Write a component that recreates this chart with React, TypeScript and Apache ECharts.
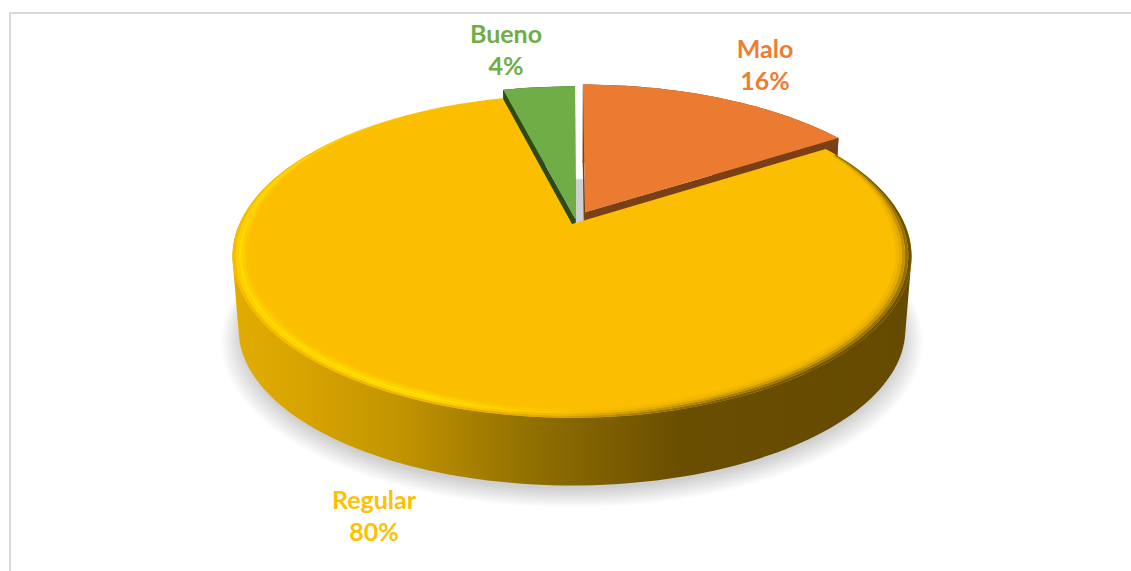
import React, { useEffect, useRef } from "react";
import * as echarts from "echarts";

// Data, clockwise from twelve o'clock
const CATEGORIES = ["Malo", "Regular", "Bueno"];
const VALUES = [16, 80, 4];

// Styling per category
const TOP_COLORS = ["#EA7B30", "#FBBE00", "#70AD47"];
const LABEL_COLORS = ["#ED7D31", "#FFC000", "#70AD47"];
const WALL_COLORS = ["#7A3F16", "#8F6E00", "#2C4A1A"];
const DRAW_RANK = [1, 3, 2];
const SHIFT_U = [0.04, 0, 0.011];
const SHIFT_V = [-0.077, 0, -0.03];
const RADII = [1.02, 1, 1.05];
const LABEL_X = [765, 374, 506];
const LABEL_Y = [64, 515, 49];

// Projection of the disc
const CX = 572;
const TOP_LAYER = { cy: 224, a: 332.6, b: 155 };
const BOTTOM_LAYER = { cy: 298, a: 326.6, b: 150 };
const PERSPECTIVE = 0.2;
const STEP = 1.5;
const SHADOW_LAYERS = 12;

type Layer = { cy: number; a: number; b: number };

function project(u: number, v: number, layer: Layer): number[] {
  const w = 1 - PERSPECTIVE * v;
  return [CX + (layer.a * u) / w, layer.cy + (layer.b * v) / w];
}

function polar(i: number, deg: number, r: number, layer: Layer): number[] {
  const t = (deg * Math.PI) / 180;
  return project(SHIFT_U[i] + r * Math.sin(t), SHIFT_V[i] - r * Math.cos(t), layer);
}

function arc(i: number, a0: number, a1: number, r: number | ((deg: number) => number), layer: Layer): number[][] {
  const n = Math.max(2, Math.ceil((a1 - a0) / STEP));
  const out: number[][] = [];
  for (let k = 0; k <= n; k++) {
    const deg = a0 + ((a1 - a0) * k) / n;
    out.push(polar(i, deg, typeof r === "function" ? r(deg) : r, layer));
  }
  return out;
}

function hull(points: number[][]): number[][] {
  const pts = points.slice().sort((p, q) => p[0] - q[0] || p[1] - q[1]);
  const cross = (o: number[], a: number[], b: number[]) =>
    (a[0] - o[0]) * (b[1] - o[1]) - (a[1] - o[1]) * (b[0] - o[0]);
  const half = (list: number[][]) => {
    const h: number[][] = [];
    for (const p of list) {
      while (h.length >= 2 && cross(h[h.length - 2], h[h.length - 1], p) <= 0) h.pop();
      h.push(p);
    }
    h.pop();
    return h;
  };
  return [...half(pts), ...half(pts.slice().reverse())];
}

const gradient = (stops: [number, string][]) =>
  new echarts.graphic.LinearGradient(
    232, 0, 911, 0,
    stops.map(([x, color]) => ({ offset: (x - 232) / 679, color })),
    true
  );

const WALL_STOPS: [number, string][] = [
  [232, "#E2AC00"], [300, "#D8A400"], [400, "#C29400"], [530, "#917000"], [680, "#6A4E00"], [911, "#654B00"],
];

const BEVEL_X = [232, 420, 560, 640, 720, 850, 911];
const BEVELS: { t0: number; t1: number; colors: string[] }[] = [
  { t0: 0, t1: 0.2, colors: ["#F6BC00", "#F2B800", "#DDA600", "#A87D00", "#7F5E00", "#705300", "#6D5100"] },
  { t0: 0.2, t1: 0.4, colors: ["#FFD000", "#FFD800", "#F0B500", "#C89800", "#A47C00", "#98730A", "#96710A"] },
  { t0: 0.4, t1: 0.6, colors: ["#FFD800", "#FFE400", "#FCC400", "#E5AD00", "#D09D00", "#C49400", "#C29200"] },
  { t0: 0.6, t1: 0.8, colors: ["#FDCC00", "#FFD600", "#FBC000", "#F5B800", "#EAB100", "#E4AC00", "#E3AB00"] },
  { t0: 0.8, t1: 1, colors: ["#FBC200", "#FDC800", "#FBBE00", "#F9BC00", "#F5B900", "#F2B700", "#F0B600"] },
];
const BEVEL_WIDTH = 0.045;

// Bevel radius: widest towards the viewer, fading out on the far side of the disc
const bevelRadius = (t: number) => (deg: number) => {
  const v = -Math.cos((deg * Math.PI) / 180);
  const f = Math.min(1, Math.max(0, (v + 0.85) / 0.85));
  return 1 - BEVEL_WIDTH * t * f;
};

const TOTAL = VALUES.reduce((s, v) => s + v, 0);
const START_ANGLES = VALUES.map((_, i) =>
  VALUES.slice(0, i).reduce((s, v) => s + (v / TOTAL) * 360, 0)
);

function renderSlice(params: any, api: any) {
  const i = params.dataIndex;
  const value = api.value(0);
  const a0 = START_ANGLES[i];
  const a1 = a0 + (value / TOTAL) * 360;
  const z = DRAW_RANK[i] * 10;
  const r = RADII[i];
  const isMain = value / TOTAL > 0.5;

  const apexTop = polar(i, 0, 0, TOP_LAYER);
  const apexBottom = polar(i, 0, 0, BOTTOM_LAYER);
  const topArc = arc(i, a0, a1, r, TOP_LAYER);
  const bottomArc = arc(i, a0, a1, r, BOTTOM_LAYER);
  const children: any[] = [];

  if (isMain) {
    children.push({
      type: "polygon",
      z2: z,
      shape: { points: hull([...arc(i, 90, 270, r, TOP_LAYER), ...arc(i, 90, 270, r, BOTTOM_LAYER)]) },
      style: { fill: gradient(WALL_STOPS) },
    });
  } else {
    children.push({
      type: "polygon",
      z2: z,
      shape: { points: [...topArc, ...bottomArc.slice().reverse()] },
      style: { fill: WALL_COLORS[i] },
    });
    [topArc[0], topArc[topArc.length - 1]].forEach((p, k) => {
      const q = k === 0 ? bottomArc[0] : bottomArc[bottomArc.length - 1];
      children.push({
        type: "polygon",
        z2: z + 1,
        shape: { points: [apexTop, p, q, apexBottom] },
        style: { fill: WALL_COLORS[i] },
      });
    });
  }
  children.push({
    type: "polygon",
    z2: z + 2,
    shape: { points: [apexTop, ...topArc] },
    style: { fill: TOP_COLORS[i] },
  });
  if (isMain) {
    BEVELS.forEach((band, k) => {
      const stops = band.colors.map((c, j) => [BEVEL_X[j], c]) as [number, string][];
      children.push({
        type: "polygon",
        z2: z + 3 + k,
        shape: {
          points: [
            ...arc(i, a0 + 3, a1 - 1, bevelRadius(band.t0), TOP_LAYER),
            ...arc(i, a0 + 3, a1 - 1, bevelRadius(band.t1), TOP_LAYER).reverse(),
          ],
        },
        style: { fill: gradient(stops) },
      });
    });
  }
  children.push({
    type: "text",
    z2: 100,
    x: LABEL_X[i],
    y: LABEL_Y[i],
    style: {
      text: `${CATEGORIES[i]}\n${Math.round((value / TOTAL) * 100)}%`,
      fill: LABEL_COLORS[i],
      font: "bold 25px Lato, sans-serif",
      lineHeight: 32,
      align: "center",
      verticalAlign: "middle",
    },
  });
  return { type: "group", children };
}

// Soft ground shadow: a stack of faint, slightly growing discs
function renderShadow() {
  const children: any[] = [];
  for (let k = 0; k < SHADOW_LAYERS; k++) {
    const t = k / (SHADOW_LAYERS - 1);
    children.push({
      type: "polygon",
      z2: k,
      shape: {
        points: arc(1, 0, 360, 1.05 - 0.06 * t, { ...BOTTOM_LAYER, cy: BOTTOM_LAYER.cy + 10 - 4 * t }),
      },
      style: { fill: "rgba(0,0,0,0.016)" },
    });
  }
  return { type: "group", children };
}

export default function App() {
  const ref = useRef<HTMLDivElement>(null);
  useEffect(() => {
    document.body.style.margin = "0";
    const chart = echarts.init(ref.current!, undefined, { renderer: "svg" });
    chart.setOption({
      animation: false,
      backgroundColor: "#FFFFFF",
      graphic: [
        { type: "rect", shape: { x: 9, y: 12, width: 1122, height: 2 }, style: { fill: "#D9D9D9" }, silent: true },
        { type: "rect", shape: { x: 9, y: 12, width: 2, height: 559 }, style: { fill: "#D9D9D9" }, silent: true },
      ],
      series: [
        { type: "custom", coordinateSystem: "none", silent: true, z: 1, data: [1], renderItem: renderShadow },
        {
          type: "custom",
          coordinateSystem: "none",
          silent: true,
          z: 2,
          data: VALUES.map((value, i) => ({ name: CATEGORIES[i], value })),
          renderItem: renderSlice,
        },
      ],
    });
    return () => chart.dispose();
  }, []);
  return <div ref={ref} style={{ width: 1131, height: 571, overflow: "hidden" }} />;
}
